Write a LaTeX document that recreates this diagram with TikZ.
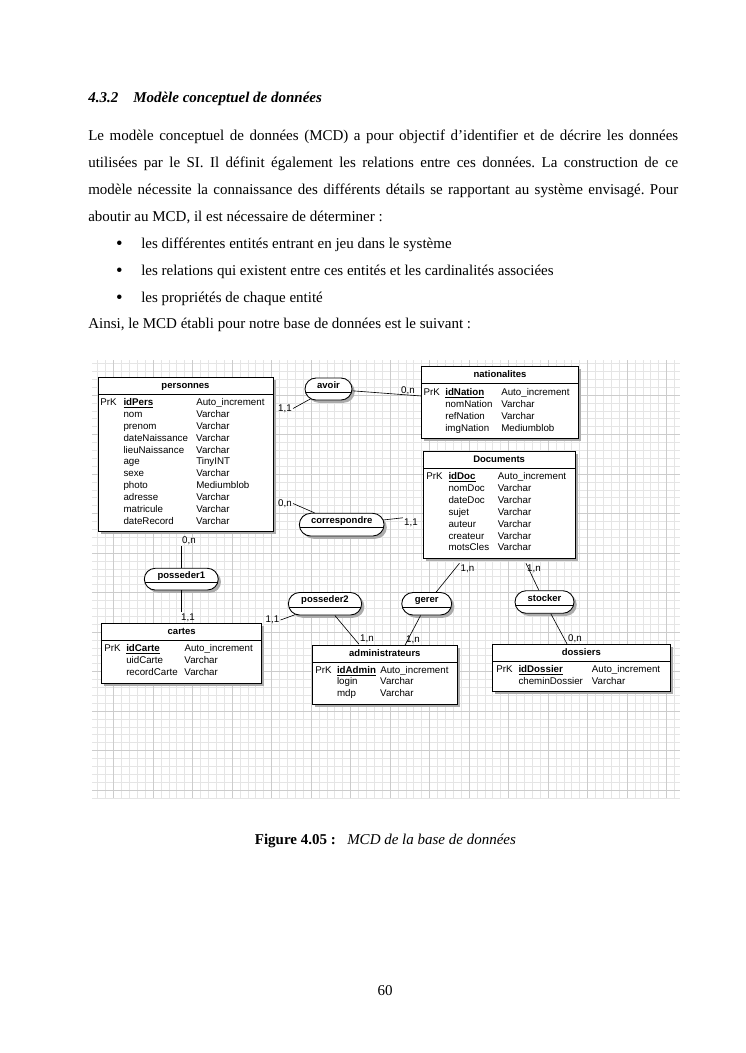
\documentclass[tikz,border=0pt]{standalone}
\usepackage{fontspec}
\setmainfont{Liberation Serif}
\newfontfamily\mcdfont{Liberation Sans}
\usepackage{tikz}
\usetikzlibrary{shapes.misc, shadows, fit, calc, positioning}
\frenchspacing

\begin{document}
\begin{tikzpicture}[
        x=0.8pt, y=-0.8pt,
        texte/.style={anchor=base west, inner sep=0, font=\fontsize{12}{14.4}\selectfont},
        puce/.style={anchor=base, inner sep=0, font=\fontsize{15}{15}\selectfont},
        grillefine/.style={gray!20, line width=0.4pt},
        grillegrande/.style={gray!40, line width=0.4pt},
        entite/.style={draw, fill=white, inner sep=0, line width=0.7pt,
            drop shadow={shadow xshift=2.2pt, shadow yshift=-2.2pt, fill=gray!65, opacity=1},
            path picture={\draw[line width=0.7pt] ([yshift=-13.6pt]path picture bounding box.north west) -- ([yshift=-13.6pt]path picture bounding box.north east);}},
        titre/.style={anchor=base, inner sep=0, font=\mcdfont\fontsize{7.6}{9.5}\selectfont\bfseries},
        attributs/.style={anchor=base west, inner sep=0, font=\mcdfont\fontsize{7.8}{9.5}\selectfont},
        relation/.style={rounded rectangle, draw, fill=white, inner sep=0, line width=0.7pt,
            text height=5.6pt, text depth=2.4pt, font=\mcdfont\fontsize{7.6}{9.5}\selectfont\bfseries,
            drop shadow={shadow xshift=2.2pt, shadow yshift=-2.2pt, fill=gray!65, opacity=1},
            path picture={\draw[line width=0.6pt] ($(path picture bounding box.south west)!0.36!(path picture bounding box.north west)$) -- ($(path picture bounding box.south east)!0.36!(path picture bounding box.north east)$);}},
        card/.style={inner sep=0.8pt, font=\mcdfont\fontsize{7.8}{9.5}\selectfont},
        lien/.style={line width=0.5pt}
    ]
        % Page
        \fill[white] (0,0) rectangle (745,1053);
        \useasboundingbox (0,0) rectangle (745,1053);

        % Titre et texte
        \node[texte, font=\fontsize{12}{14.4}\selectfont\bfseries\itshape] (num) at (88,102) {4.3.2};
        \node[texte, font=\fontsize{12}{14.4}\selectfont\bfseries\itshape] (section) at (133,102) {Modèle conceptuel de données};
        \node[texte] (ligne1) at (88,140) {\makebox[472pt][s]{Le modèle conceptuel de données (MCD) a pour objectif d’identifier et de décrire les données}};
        \node[texte] (ligne2) at (88,167) {\makebox[472pt][s]{utilisées par le SI. Il définit également les relations entre ces données. La construction de ce}};
        \node[texte] (ligne3) at (88,194) {\makebox[472pt][s]{modèle nécessite la connaissance des différents détails se rapportant au système envisagé. Pour}};
        \node[texte] (ligne4) at (88,221) {aboutir au MCD, il est nécessaire de déterminer :};
        \node[puce] (puce1) at (119.5,249) {•};
        \node[texte] (item1) at (141,248) {les différentes entités entrant en jeu dans le système};
        \node[puce] (puce2) at (119.5,276) {•};
        \node[texte] (item2) at (141,275) {les relations qui existent entre ces entités et les cardinalités associées};
        \node[puce] (puce3) at (119.5,303) {•};
        \node[texte] (item3) at (141,302) {les propriétés de chaque entité};
        \node[texte] (ainsi) at (88,328) {Ainsi, le MCD établi pour notre base de données est le suivant :};

        % Quadrillage
        \foreach \i in {-2,...,71}
            \draw[grillefine] ({113.5+7.9*\i},360) -- ({113.5+7.9*\i},798);
        \foreach \i in {-1,...,54}
            \draw[grillefine] (92,{790-7.9*\i}) -- (680,{790-7.9*\i});
        \foreach \i in {0,...,14}
            \draw[grillegrande] ({113.5+39.5*\i},360) -- ({113.5+39.5*\i},798);
        \foreach \i in {0,...,10}
            \draw[grillegrande] (92,{790-39.5*\i}) -- (680,{790-39.5*\i});

        % Entites
        \node[entite, fit={(98,377) (273,531.5)}] (personnes) {};
        \node[titre] (personnes-titre) at ($(personnes.north)+(0,11.5)$) {personnes};
        \node[attributs] (personnes-attr) at (100,405.5) {\begin{tabular}[t]{@{}p{18.6pt}@{}p{58.2pt}@{}l@{}}
            PrK & \underline{\textbf{idPers}} & Auto\_increment\\
                & nom & Varchar\\
                & prenom & Varchar\\
                & dateNaissance & Varchar\\
                & lieuNaissance & Varchar\\
                & age & TinyINT\\
                & sexe & Varchar\\
                & photo & Mediumblob\\
                & adresse & Varchar\\
                & matricule & Varchar\\
                & dateRecord & Varchar
        \end{tabular}};

        \node[entite, fit={(421.7,366.7) (578.3,438.3)}] (nationalites) {};
        \node[titre] (nationalites-titre) at ($(nationalites.north)+(0,11.5)$) {nationalites};
        \node[attributs] (nationalites-attr) at (423.3,395.7) {\begin{tabular}[t]{@{}p{17.4pt}@{}p{44.8pt}@{}l@{}}
            PrK & \underline{\textbf{idNation}} & Auto\_increment\\
                & nomNation & Varchar\\
                & refNation & Varchar\\
                & imgNation & Mediumblob
        \end{tabular}};

        \node[entite, fit={(423.3,451.7) (575,558.3)}] (documents) {};
        \node[titre] (documents-titre) at ($(documents.north)+(0,11.5)$) {Documents};
        \node[attributs] (documents-attr) at (426,479.7) {\begin{tabular}[t]{@{}p{17.8pt}@{}p{39.5pt}@{}l@{}}
            PrK & \underline{\textbf{idDoc}} & Auto\_increment\\
                & nomDoc & Varchar\\
                & dateDoc & Varchar\\
                & sujet & Varchar\\
                & auteur & Varchar\\
                & createur & Varchar\\
                & motsCles & Varchar
        \end{tabular}};

        \node[entite, fit={(101.7,623.3) (261.7,683.3)}] (cartes) {};
        \node[titre] (cartes-titre) at ($(cartes.north)+(0,11.5)$) {cartes};
        \node[attributs] (cartes-attr) at (104,651.7) {\begin{tabular}[t]{@{}p{17.6pt}@{}p{46.6pt}@{}l@{}}
            PrK & \underline{\textbf{idCarte}} & Auto\_increment\\
                & uidCarte & Varchar\\
                & recordCarte & Varchar
        \end{tabular}};

        \node[entite, fit={(312.7,645) (457,704)}] (administrateurs) {};
        \node[titre] (administrateurs-titre) at ($(administrateurs.north)+(0,11.5)$) {administrateurs};
        \node[attributs] (administrateurs-attr) at (315,673) {\begin{tabular}[t]{@{}p{17.4pt}@{}p{34.6pt}@{}l@{}}
            PrK & \underline{\textbf{idAdmin}} & Auto\_increment\\
                & login & Varchar\\
                & mdp & Varchar
        \end{tabular}};

        \node[entite, fit={(492.7,644.3) (670,691)}] (dossiers) {};
        \node[titre] (dossiers-titre) at ($(dossiers.north)+(0,11.5)$) {dossiers};
        \node[attributs] (dossiers-attr) at (496,672.3) {\begin{tabular}[t]{@{}p{17.8pt}@{}p{58.7pt}@{}l@{}}
            PrK & \underline{\textbf{idDossier}} & Auto\_increment\\
                & cheminDossier & Varchar
        \end{tabular}};

        % Associations (corps sans les arrondis)
        \node[relation, fit={(316,378) (341,400)}] (avoir) {avoir};
        \node[relation, fit={(310.7,513.3) (372.7,536)}] (correspondre) {correspondre};
        \node[relation, fit={(155.2,568.3) (207.4,590)}] (posseder1) {posseder1};
        \node[relation, fit={(299.6,592.5) (350.4,615)}] (posseder2) {posseder2};
        \node[relation, fit={(413,592.5) (440.4,615)}] (gerer) {gerer};
        \node[relation, fit={(526.3,590.7) (562.7,613.3)}] (stocker) {stocker};

        % Cardinalites
        \node[card] (c-avo-pers) at (285,408.5) {1,1};
        \node[card, anchor=south] (c-avo-nat) at (408,396) {0,n};
        \node[card] (c-cor-pers) at (285,503.5) {0,n};
        \node[card] (c-cor-doc) at (411,523) {1,1};
        \node[card] (c-p1-pers) at (189,541) {0,n};
        \node[card] (c-p1-cart) at (188,617.5) {1,1};
        \node[card] (c-p2-cart) at (272.5,620) {1,1};
        \node[card] (c-p2-adm) at (367,639) {1,n};
        \node[card] (c-ger-adm) at (413,640) {1,n};
        \node[card] (c-ger-doc) at (467.5,568.5) {1,n};
        \node[card] (c-sto-doc) at (534,568.5) {1,n};
        \node[card] (c-sto-dos) at (575,638.5) {0,n};

        % Liens
        \draw[lien] (avoir) -- (c-avo-pers.east);
        \draw[lien] (avoir) -- (nationalites.west |- c-avo-nat.south);
        \draw[lien] (correspondre) -- (c-cor-pers.east);
        \draw[lien] (correspondre) -- (c-cor-doc.north west);
        \draw[lien] (posseder1.north) -- (posseder1.north |- c-p1-pers.south);
        \draw[lien] (posseder1.south) -- (posseder1.south |- c-p1-cart.north);
        \draw[lien] (posseder2) -- (c-p2-cart.east);
        \draw[lien] (posseder2) -- (c-p2-adm.south west);
        \draw[lien] (gerer) -- (c-ger-adm.south west);
        \draw[lien] (gerer) -- (c-ger-doc.north west);
        \draw[lien] (stocker) -- (c-sto-doc.north west);
        \draw[lien] (stocker) -- (c-sto-dos.south west);

        % Legende
        \node[texte, font=\fontsize{12}{14.4}\selectfont\bfseries] (figure) at (254.6,844) {Figure 4.05 :};
        \node[texte, font=\fontsize{12}{14.4}\selectfont\itshape] (legende) at (347,844) {MCD de la base de données};
        \node[texte, anchor=base] (page) at (385,995) {60};
    \end{tikzpicture}
\end{document}
